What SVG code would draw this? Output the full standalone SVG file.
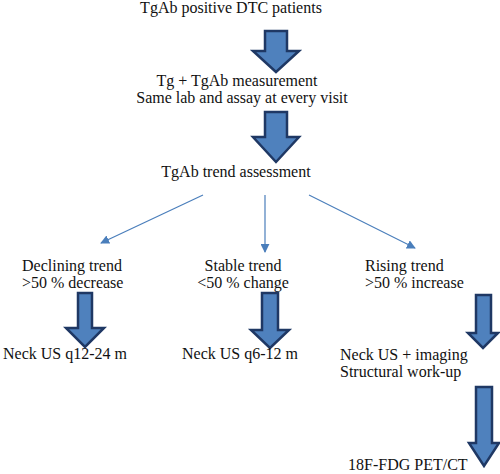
<svg xmlns="http://www.w3.org/2000/svg" width="500" height="474" viewBox="0 0 500 474">
<defs>
<style>
.t{font-family:"Liberation Serif","Times New Roman",serif;font-size:16px;fill:#111}
.m{text-anchor:middle}
.blk{fill:#4f81bd;stroke:#1f3864;stroke-width:2.5;stroke-linejoin:miter}
.con{stroke:#4a7ebb;stroke-width:1.2;fill:none}
</style>
<marker id="ah" viewBox="0 0 10 10" refX="9" refY="5" markerWidth="9" markerHeight="9" markerUnits="userSpaceOnUse" orient="auto">
<path d="M0,0 L10,5 L0,10 z" fill="#4a7ebb"/>
</marker>
</defs>
<rect width="500" height="474" fill="#fff"/>
<g id="n1"><text class="t m" x="231" y="13">TgAb positive DTC patients</text></g>
<g id="a1"><path class="blk" d="M265,31 H287 V51 H299 L276,72 L253,51 H265 Z"/></g>
<g id="n2"><text class="t m" x="237" y="86">Tg + TgAb measurement</text><text class="t m" x="242" y="103">Same lab and assay at every visit</text></g>
<g id="a2"><path class="blk" d="M265,112 H287 V137 H299 L276,162 L253,137 H265 Z"/></g>
<g id="n3"><text class="t m" x="236" y="177">TgAb trend assessment</text></g>
<g id="connectors">
<line class="con" x1="203" y1="195" x2="101" y2="243" marker-end="url(#ah)"/>
<line class="con" x1="265" y1="195" x2="265" y2="252" marker-end="url(#ah)"/>
<line class="con" x1="309" y1="195" x2="415" y2="248" marker-end="url(#ah)"/>
</g>
<g id="n4"><text class="t" x="22" y="271">Declining trend</text><text class="t" x="22" y="288">&gt;50 % decrease</text></g>
<g id="n5"><text class="t m" x="243" y="271">Stable trend</text><text class="t m" x="243" y="288">&lt;50 % change</text></g>
<g id="n6"><text class="t" x="365" y="271">Rising trend</text><text class="t" x="365" y="288">&gt;50 % increase</text></g>
<g id="a3"><path class="blk" d="M78,293 H92 V328 H104 L85,347 L66,328 H78 Z"/></g>
<g id="a4"><path class="blk" d="M262,293 H278 V330 H289 L270,348 L251,330 H262 Z"/></g>
<g id="a5"><path class="blk" d="M476,295 H491 V333 H498 L483,348 L468,333 H476 Z"/></g>
<g id="n7"><text class="t" x="3" y="359">Neck US q12-24 m</text></g>
<g id="n8"><text class="t" x="182" y="359">Neck US q6-12 m</text></g>
<g id="n9"><text class="t" x="340" y="360">Neck US + imaging</text><text class="t" x="340" y="377">Structural work-up</text></g>
<g id="a6"><path class="blk" d="M476,387 H492 V443 H499 L484,466 L469,443 H476 Z"/></g>
<g id="n10"><text class="t" x="348" y="470">18F-FDG PET/CT</text></g>
</svg>
